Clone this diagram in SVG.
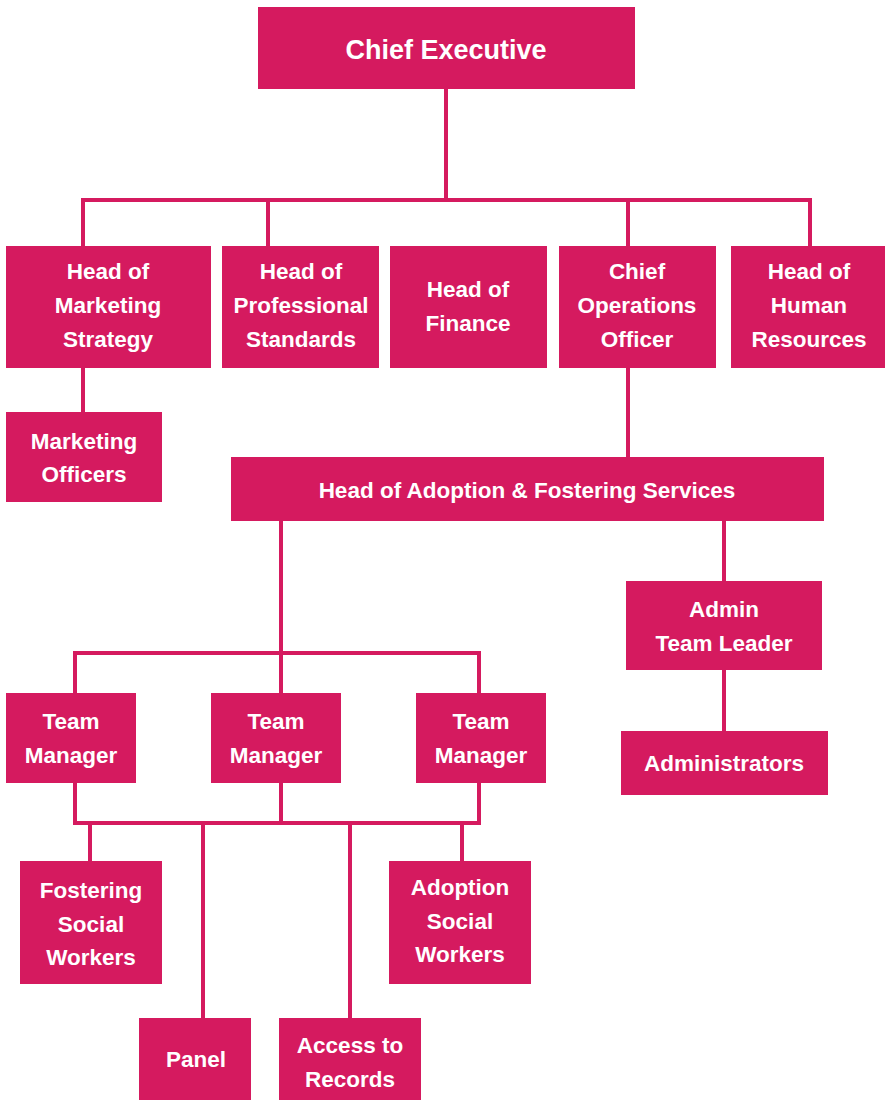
<svg xmlns="http://www.w3.org/2000/svg" width="885" height="1100" viewBox="0 0 885 1100">
<style>
.box{fill:#D51A5F}
.t{fill:#fff;font-family:"Liberation Sans",Arial,sans-serif;font-weight:bold;font-size:22.5px;text-anchor:middle}
.big{font-size:27px}
.c{stroke:#D51A5F;stroke-width:4;fill:none}
</style>
<rect width="885" height="1100" fill="#fff"/>
<g id="connectors">
<path class="c" d="M446 89V200M83 246V200H810V246M268 200V246M628 200V246"/>
<path class="c" d="M83 368V412"/>
<path class="c" d="M628 368V457"/>
<path class="c" d="M281 521V653M75 693V653H479V693M281 653V693"/>
<path class="c" d="M724 521V581M724 670V731"/>
<path class="c" d="M75 783V823H479V783M281 783V823"/>
<path class="c" d="M90 823V861M203 823V1018M350 823V1018M462 823V861"/>
</g>
<g id="chief-executive"><rect class="box" x="258" y="7" width="377" height="82"/><text class="t big" x="446" y="59">Chief Executive</text></g>
<g id="head-marketing"><rect class="box" x="6" y="246" width="205" height="122"/><text class="t" x="108" y="279">Head of</text><text class="t" x="108" y="313">Marketing</text><text class="t" x="108" y="347">Strategy</text></g>
<g id="head-professional"><rect class="box" x="222" y="246" width="157" height="122"/><text class="t" x="301" y="279">Head of</text><text class="t" x="301" y="313">Professional</text><text class="t" x="301" y="347">Standards</text></g>
<g id="head-finance"><rect class="box" x="390" y="246" width="157" height="122"/><text class="t" x="468" y="297">Head of</text><text class="t" x="468" y="331">Finance</text></g>
<g id="coo"><rect class="box" x="559" y="246" width="157" height="122"/><text class="t" x="637" y="279">Chief</text><text class="t" x="637" y="313">Operations</text><text class="t" x="637" y="347">Officer</text></g>
<g id="head-hr"><rect class="box" x="731" y="246" width="154" height="122"/><text class="t" x="809" y="279">Head of</text><text class="t" x="809" y="313">Human</text><text class="t" x="809" y="347">Resources</text></g>
<g id="marketing-officers"><rect class="box" x="6" y="412" width="156" height="90"/><text class="t" x="84" y="449">Marketing</text><text class="t" x="84" y="482">Officers</text></g>
<g id="head-adoption"><rect class="box" x="231" y="457" width="593" height="64"/><text class="t" x="527" y="498">Head of Adoption &amp; Fostering Services</text></g>
<g id="admin-team-leader"><rect class="box" x="626" y="581" width="196" height="89"/><text class="t" x="724" y="617">Admin</text><text class="t" x="724" y="651">Team Leader</text></g>
<g id="administrators"><rect class="box" x="621" y="731" width="207" height="64"/><text class="t" x="724" y="771">Administrators</text></g>
<g id="team-manager-1"><rect class="box" x="6" y="693" width="130" height="90"/><text class="t" x="71" y="729">Team</text><text class="t" x="71" y="763">Manager</text></g>
<g id="team-manager-2"><rect class="box" x="211" y="693" width="130" height="90"/><text class="t" x="276" y="729">Team</text><text class="t" x="276" y="763">Manager</text></g>
<g id="team-manager-3"><rect class="box" x="416" y="693" width="130" height="90"/><text class="t" x="481" y="729">Team</text><text class="t" x="481" y="763">Manager</text></g>
<g id="fostering-social-workers"><rect class="box" x="20" y="861" width="142" height="123"/><text class="t" x="91" y="898">Fostering</text><text class="t" x="91" y="932">Social</text><text class="t" x="91" y="965">Workers</text></g>
<g id="adoption-social-workers"><rect class="box" x="389" y="861" width="142" height="123"/><text class="t" x="460" y="895">Adoption</text><text class="t" x="460" y="929">Social</text><text class="t" x="460" y="962">Workers</text></g>
<g id="panel"><rect class="box" x="139" y="1018" width="112" height="82"/><text class="t" x="196" y="1067">Panel</text></g>
<g id="access-to-records"><rect class="box" x="279" y="1018" width="142" height="82"/><text class="t" x="350" y="1053">Access to</text><text class="t" x="350" y="1087">Records</text></g>
</svg>
